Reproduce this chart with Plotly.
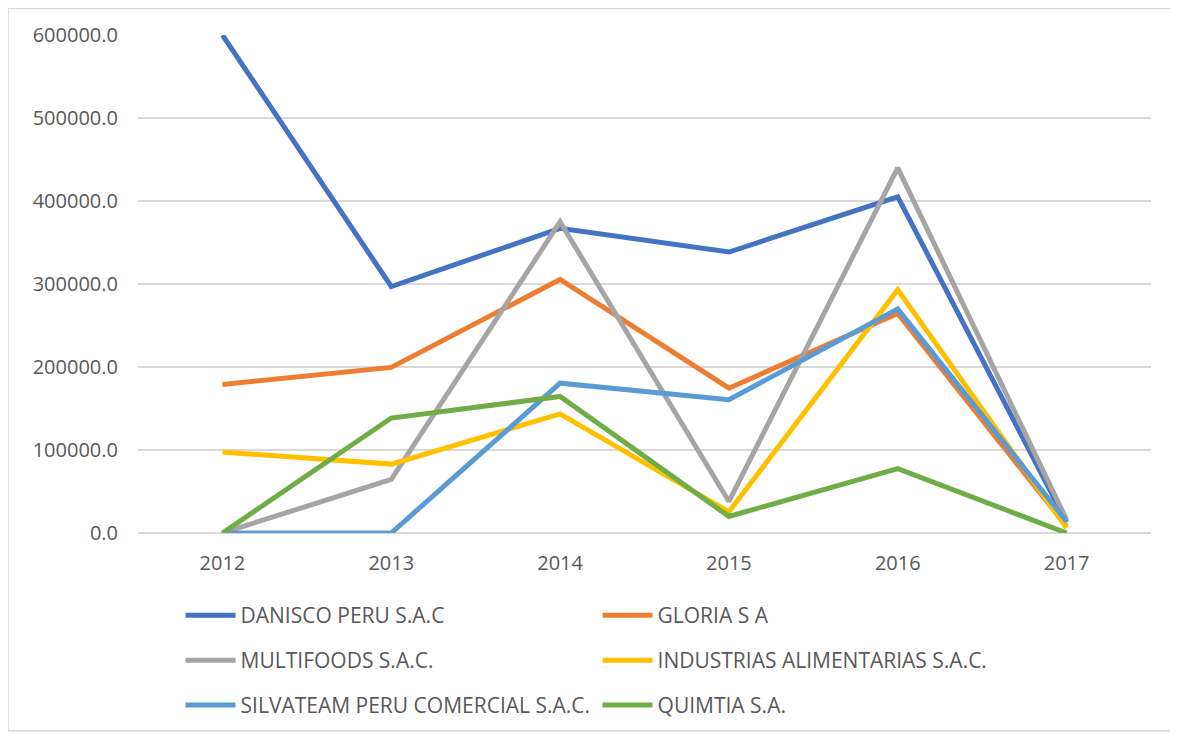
import plotly.graph_objects as go

# ── Data ──────────────────────────────────────────────
years = ['2012', '2013', '2014', '2015', '2016', '2017']

danisco    = [600000, 297000, 367000, 338500, 405000, 13000]
gloria     = [179000, 199500, 305500, 174500, 264500, 8000]
multifoods = [0, 64500, 375000, 38000, 440000, 16000]
industrias = [97500, 83000, 143500, 25500, 293000, 6000]
silvateam  = [0, 0, 180500, 160500, 270000, 14000]
quimtia    = [0, 138500, 164500, 20000, 77500, 0]

series = [
    ('DANISCO PERU S.A.C', danisco, '#4472C4', 'legend'),
    ('GLORIA S A', gloria, '#ED7D31', 'legend'),
    ('MULTIFOODS S.A.C.', multifoods, '#A5A5A5', 'legend2'),
    ('INDUSTRIAS ALIMENTARIAS S.A.C.', industrias, '#FFC000', 'legend2'),
    ('SILVATEAM PERU COMERCIAL S.A.C.', silvateam, '#5B9BD5', 'legend3'),
    ('QUIMTIA S.A.', quimtia, '#70AD47', 'legend3'),
]

TEXT = '#595959'
GRID = '#D9D9D9'
FONT = 'Open Sans'

fig = go.Figure()
for name, vals, color, leg in series:
    fig.add_trace(go.Scatter(
        x=years, y=vals, name=name, mode='lines', legend=leg,
        line=dict(color=color, width=5),
    ))

# one horizontal legend per row, so the rows can be spaced like the original
def row_legend(y):
    return dict(
        orientation='h', x=0.042, xanchor='left', y=y, yanchor='top',
        entrywidth=352, entrywidthmode='pixels', itemwidth=50,
        font=dict(family=FONT, size=21, color=TEXT),
        bgcolor='rgba(0,0,0,0)',
    )

fig.update_layout(
    width=1166, height=730,
    plot_bgcolor='white', paper_bgcolor='white',
    font=dict(family=FONT, size=20, color=TEXT),
    margin=dict(l=130, r=23, t=27, b=199),
    showlegend=True,
    legend=row_legend(-0.1245),
    legend2=row_legend(-0.2150),
    legend3=row_legend(-0.3050),
    xaxis=dict(
        type='category', range=[-0.5, 5.5],
        showgrid=False, showline=False, zeroline=False,
        ticks='', ticklabelstandoff=16, tickfont=dict(size=20, color=TEXT),
    ),
    yaxis=dict(
        range=[0, 600000], dtick=100000, tickformat='.1f',
        gridcolor=GRID, gridwidth=1.5, zeroline=True,
        zerolinecolor=GRID, zerolinewidth=1.5, showline=False,
        ticks='', ticklabelstandoff=19, tickfont=dict(size=20, color=TEXT),
    ),
    shapes=[dict(
        type='rect', xref='paper', yref='paper',
        x0=-0.1283, x1=1.0197, y0=-0.397, y1=1.0532,
        line=dict(color='#D9D9D9', width=1.5), fillcolor='rgba(0,0,0,0)',
    )],
)

fig.write_html("out.html")
